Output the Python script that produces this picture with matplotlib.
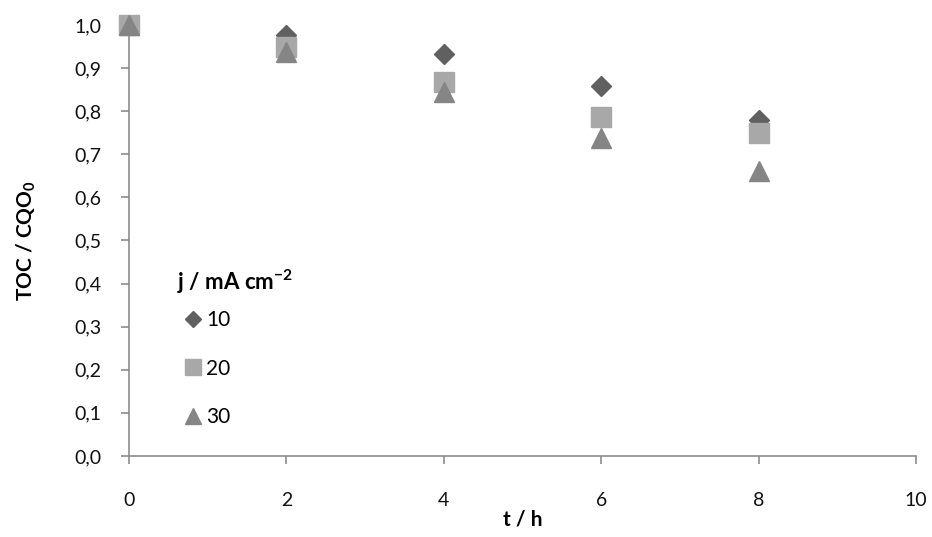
import matplotlib
matplotlib.use("Agg")
import matplotlib.pyplot as plt

# Normalised organic load vs electrolysis time at three current densities
t_h = [0, 2, 4, 6, 8]
series_labels = ["10", "20", "30"]
toc_10 = [1.00, 0.977, 0.932, 0.858, 0.780]
toc_20 = [1.00, 0.949, 0.868, 0.787, 0.750]
toc_30 = [1.00, 0.938, 0.844, 0.737, 0.661]
y_ticks = [0.0, 0.1, 0.2, 0.3, 0.4, 0.5, 0.6, 0.7, 0.8, 0.9, 1.0]
x_ticks = [0, 2, 4, 6, 8, 10]

plt.rcParams["font.family"] = ["Lato", "DejaVu Sans"]

fig = plt.figure(figsize=(9.32, 5.37), dpi=100)
ax = fig.add_axes([0.1384, 0.151, 0.8446, 0.8024])

axis_col = "#8c8c8c"
ax.plot(t_h, toc_10, linestyle="none", marker="D", markersize=10.0,
        color="#606060", label=series_labels[0], zorder=3, clip_on=False)
ax.plot(t_h, toc_20, linestyle="none", marker="s", markersize=14.0,
        color="#a8a8a8", label=series_labels[1], zorder=4, clip_on=False)
ax.plot(t_h, toc_30, linestyle="none", marker="^", markersize=14.5,
        color="#858585", label=series_labels[2], zorder=5, clip_on=False)

ax.set_xlim(0, 10)
ax.set_ylim(0, 1.0)
ax.set_xticks(x_ticks)
ax.set_yticks(y_ticks)
ax.set_xticklabels([str(v) for v in x_ticks])
ax.set_yticklabels([f"{v:.1f}".replace(".", ",") for v in y_ticks])

for side in ("top", "right"):
    ax.spines[side].set_visible(False)
for side in ("left", "bottom"):
    ax.spines[side].set_color(axis_col)
    ax.spines[side].set_linewidth(1.2)
ax.tick_params(axis="both", direction="out", length=6, width=1.2,
               color=axis_col, labelsize=14, labelcolor="#111111")
ax.tick_params(axis="x", pad=20)
ax.tick_params(axis="y", pad=14)

ax.set_xlabel("t / h", fontsize=15, fontweight="bold", labelpad=0)
ax.set_ylabel("TOC / CQO$_\\mathregular{0}$", fontsize=15, fontweight="bold",
              labelpad=26)

leg = ax.legend(title="j / mA cm$^{\\mathregular{-2}}$", loc="upper left",
                bbox_to_anchor=(0.05, 0.455), frameon=False, fontsize=15,
                handletextpad=-0.2, labelspacing=1.36, borderaxespad=0,
                alignment="left", markerscale=0.8, handlelength=1.6)
leg.get_title().set_fontweight("bold")
leg.get_title().set_fontsize(16)
leg._legend_box.sep = 10

fig.savefig("out.png", dpi=100, facecolor="white")
